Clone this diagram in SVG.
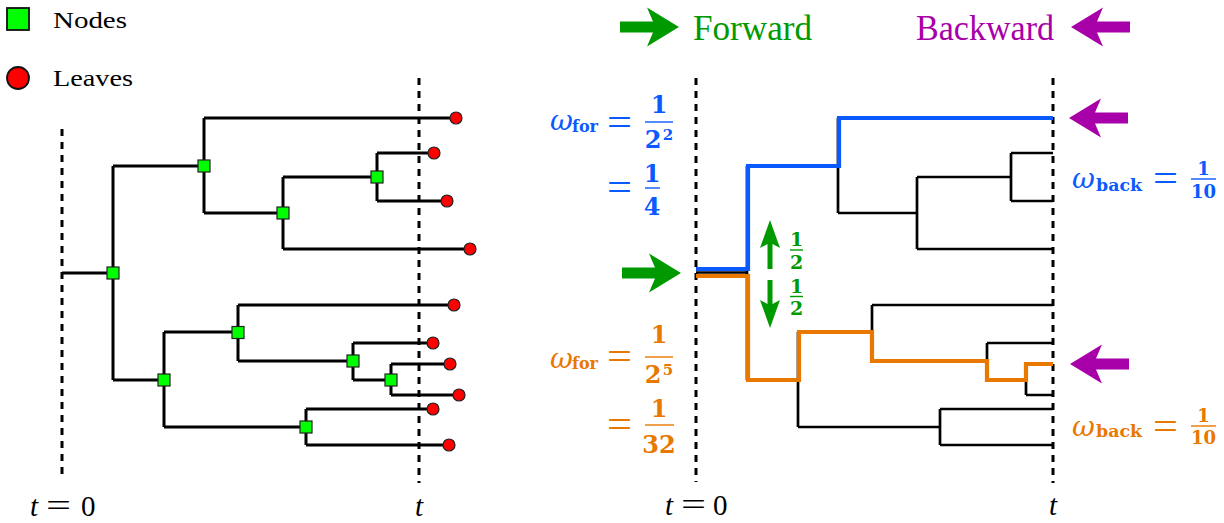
<svg xmlns="http://www.w3.org/2000/svg" width="1224" height="523" viewBox="0 0 1224 523">
<style>
.edge{fill:none;stroke:#000;stroke-width:3}
.redge{fill:none;stroke:#000;stroke-width:2.7}
.dash{stroke:#000;stroke-width:3;stroke-dasharray:7 6}
.node{fill:#00ff00;stroke:#222;stroke-width:1.2}
.leaf{fill:#ff0000;stroke:#222;stroke-width:1.2}
.lbl{font-family:"Liberation Serif",serif;font-size:24px;fill:#000}
.hdr{font-family:"Liberation Serif",serif;font-size:35px}
.tm{font-family:"Liberation Serif",serif;font-size:29px;fill:#000}
.it{font-style:italic}
.eq{font-family:"Liberation Serif",serif;font-size:40px}
.eqs{font-family:"Liberation Serif",serif;font-size:31px;fill:#000}
.om{font-family:"DejaVu Serif",serif;font-style:italic;font-size:28px}
.bf{font-family:"DejaVu Serif",serif;font-weight:bold}
.blue{fill:#0a5aff}
.orange{fill:#e87800}
.green{fill:#009a00}
.purple{fill:#a800a8}
.bar{stroke-width:1.4}
</style>
<defs>
<path id="fat" d="M0,0 L-32,-19.5 L-26,-5.5 L-59,-5.5 L-59,5.5 L-26,5.5 L-32,19.5 Z"/>
</defs>
<rect width="1224" height="523" fill="#fff"/>

<!-- legend -->
<g id="legend">
<rect x="7" y="8" width="22" height="22" fill="#00ff00" stroke="#111" stroke-width="1.8"/>
<text class="lbl" x="53" y="28" textLength="74" lengthAdjust="spacingAndGlyphs">Nodes</text>
<circle cx="18" cy="78" r="11" fill="#ff0000" stroke="#111" stroke-width="1.8"/>
<text class="lbl" x="53" y="86" textLength="80" lengthAdjust="spacingAndGlyphs">Leaves</text>
</g>

<!-- header -->
<g id="header-forward" class="green">
<use href="#fat" transform="translate(679,27)"/>
<text class="hdr" x="693" y="40" textLength="119" lengthAdjust="spacingAndGlyphs">Forward</text>
</g>
<g id="header-backward" class="purple">
<text class="hdr" x="916" y="40" textLength="138" lengthAdjust="spacingAndGlyphs">Backward</text>
<use href="#fat" transform="translate(1071,27) scale(-1,1)"/>
</g>

<!-- time lines -->
<g id="timelines">
<line class="dash" x1="62" y1="129" x2="62" y2="480"/>
<line class="dash" x1="419" y1="78" x2="419" y2="483"/>
<line class="dash" x1="696" y1="78" x2="696" y2="482"/>
<line class="dash" x1="1053" y1="78" x2="1053" y2="483"/>
</g>

<!-- connectors -->
<g id="connectors">
<path class="edge" d="M62,273 H113 M113,166 V380 M113,166 H204 M204,118 V213 M204,118 H456 M204,213 H283 M283,177 V249 M283,177 H377 M377,153 V201 M377,153 H434 M377,201 H447 M283,249 H470 M113,380 H164 M164,332 V427 M164,332 H238 M238,305 V361 M238,305 H454 M238,361 H353 M353,343 V380 M353,343 H433 M353,380 H391 M391,364 V395 M391,364 H450 M391,395 H459 M164,427 H306 M306,409 V445 M306,409 H433 M306,445 H449"/>
<path class="redge" d="M696,272.5 H747 M747,166 V380 M747,166 H838 M838,118 V213 M838,118 H1053 M838,213 H917 M917,177 V249 M917,177 H1011 M1011,153 V201 M1011,153 H1053 M1011,201 H1053 M917,249 H1053 M747,380 H798 M798,332 V427 M798,332 H872 M872,305 V361 M872,305 H1053 M872,361 H987 M987,343 V380 M987,343 H1053 M987,380 H1026 M1026,364 V395 M1026,364 H1053 M1026,395 H1053 M798,427 H940 M940,409 V445 M940,409 H1053 M940,445 H1053"/>
<path id="path-blue" d="M696,269 H748 V166 H839 V118 H1053" fill="none" stroke="#0a5aff" stroke-width="4.2"/>
<path id="path-orange" d="M696,276 H748 V380 H799 V332 H872 V361 H987 V380 H1026 V364 H1053" fill="none" stroke="#e87800" stroke-width="4.2"/>
</g>

<!-- internal nodes -->
<g id="n1"><rect class="node" x="107" y="267" width="12" height="12"/></g>
<g id="n2"><rect class="node" x="198" y="160" width="12" height="12"/></g>
<g id="n3"><rect class="node" x="277" y="207" width="12" height="12"/></g>
<g id="n4"><rect class="node" x="371" y="171" width="12" height="12"/></g>
<g id="n5"><rect class="node" x="158" y="374" width="12" height="12"/></g>
<g id="n6"><rect class="node" x="232" y="326.5" width="12" height="12"/></g>
<g id="n7"><rect class="node" x="347" y="355" width="12" height="12"/></g>
<g id="n8"><rect class="node" x="385" y="374" width="12" height="12"/></g>
<g id="n9"><rect class="node" x="300" y="421" width="12" height="12"/></g>

<!-- leaves -->
<g id="l1"><circle class="leaf" cx="456" cy="118" r="6"/></g>
<g id="l2"><circle class="leaf" cx="434" cy="153" r="6"/></g>
<g id="l3"><circle class="leaf" cx="447" cy="201" r="6"/></g>
<g id="l4"><circle class="leaf" cx="470" cy="249" r="6"/></g>
<g id="l5"><circle class="leaf" cx="454" cy="305" r="6"/></g>
<g id="l6"><circle class="leaf" cx="433" cy="343" r="6"/></g>
<g id="l7"><circle class="leaf" cx="450" cy="364" r="6"/></g>
<g id="l8"><circle class="leaf" cx="459" cy="395" r="6"/></g>
<g id="l9"><circle class="leaf" cx="433" cy="409" r="6"/></g>
<g id="l10"><circle class="leaf" cx="449" cy="445" r="6"/></g>

<!-- time labels -->
<g id="t0-left">
<text class="tm it" x="30" y="516">t</text>
<text class="eqs" x="46" y="515.5" textLength="25" lengthAdjust="spacingAndGlyphs">=</text>
<text class="tm" x="81" y="516">0</text>
</g>
<text id="t-left" class="tm it" x="419" y="516" text-anchor="middle">t</text>
<g id="t0-right">
<text class="tm it" x="665" y="515">t</text>
<text class="eqs" x="681" y="515" textLength="25" lengthAdjust="spacingAndGlyphs">=</text>
<text class="tm" x="713" y="515">0</text>
</g>
<text id="t-right" class="tm it" x="1053" y="515" text-anchor="middle">t</text>

<!-- arrows on right panel -->
<g id="arrow-forward" class="green"><use href="#fat" transform="translate(681,273)"/></g>
<g id="arrow-back-top" class="purple"><use href="#fat" transform="translate(1069,118) scale(-1,1)"/></g>
<g id="arrow-back-mid" class="purple"><use href="#fat" transform="translate(1070,364) scale(-1,1)"/></g>

<g id="split-arrows" class="green">
<path d="M770,220 L780,248 L772.5,244 V269 H767.5 V244 L760,248 Z"/>
<path d="M770,328 L780,300 L772.5,304 V280 H767.5 V304 L760,300 Z"/>
<text class="bf" x="796.5" y="246" font-size="19" text-anchor="middle">1</text>
<line class="bar" x1="790" y1="250" x2="803" y2="250" stroke="#009a00"/>
<text class="bf" x="796.5" y="269" font-size="19" text-anchor="middle">2</text>
<text class="bf" x="796.5" y="293" font-size="19" text-anchor="middle">1</text>
<line class="bar" x1="790" y1="296.5" x2="803" y2="296.5" stroke="#009a00"/>
<text class="bf" x="796.5" y="315" font-size="19" text-anchor="middle">2</text>
</g>

<!-- blue weights -->
<g id="wfor-blue" class="blue">
<text class="om" x="550" y="130">ω</text>
<text class="bf" x="572" y="132" font-size="17" textLength="26" lengthAdjust="spacingAndGlyphs">for</text>
<text class="eq" x="607" y="136" textLength="25" lengthAdjust="spacingAndGlyphs">=</text>
<text class="bf" x="659" y="113" font-size="24" text-anchor="middle">1</text>
<line class="bar" x1="645" y1="122" x2="673" y2="122" stroke="#0a5aff"/>
<text class="bf" x="653" y="148" font-size="24" text-anchor="middle">2</text>
<text class="bf" x="668" y="140" font-size="15" text-anchor="middle">2</text>
<text class="eq" x="607" y="201" textLength="25" lengthAdjust="spacingAndGlyphs">=</text>
<text class="bf" x="652" y="182" font-size="24" text-anchor="middle">1</text>
<line class="bar" x1="645" y1="188" x2="660" y2="188" stroke="#0a5aff"/>
<text class="bf" x="652" y="215" font-size="24" text-anchor="middle">4</text>
</g>
<g id="wback-blue" class="blue">
<text class="om" x="1072" y="188">ω</text>
<text class="bf" x="1096" y="191" font-size="17" textLength="46" lengthAdjust="spacingAndGlyphs">back</text>
<text class="eq" x="1153" y="192" textLength="25" lengthAdjust="spacingAndGlyphs">=</text>
<text class="bf" x="1203.5" y="175" font-size="18" text-anchor="middle">1</text>
<line class="bar" x1="1191" y1="179" x2="1216" y2="179" stroke="#0a5aff"/>
<text class="bf" x="1203.5" y="198" font-size="18" text-anchor="middle">10</text>
</g>

<!-- orange weights -->
<g id="wfor-orange" class="orange">
<text class="om" x="550" y="368">ω</text>
<text class="bf" x="572" y="369" font-size="17" textLength="26" lengthAdjust="spacingAndGlyphs">for</text>
<text class="eq" x="607" y="370" textLength="25" lengthAdjust="spacingAndGlyphs">=</text>
<text class="bf" x="659" y="343" font-size="24" text-anchor="middle">1</text>
<line class="bar" x1="645" y1="357" x2="673" y2="357" stroke="#e87800"/>
<text class="bf" x="653" y="383" font-size="24" text-anchor="middle">2</text>
<text class="bf" x="668" y="375" font-size="15" text-anchor="middle">5</text>
<text class="eq" x="607" y="438" textLength="25" lengthAdjust="spacingAndGlyphs">=</text>
<text class="bf" x="659" y="417" font-size="24" text-anchor="middle">1</text>
<line class="bar" x1="645" y1="425" x2="674" y2="425" stroke="#e87800"/>
<text class="bf" x="659" y="453" font-size="24" text-anchor="middle">32</text>
</g>
<g id="wback-orange" class="orange">
<text class="om" x="1072" y="436">ω</text>
<text class="bf" x="1096" y="437" font-size="17" textLength="46" lengthAdjust="spacingAndGlyphs">back</text>
<text class="eq" x="1153" y="440" textLength="25" lengthAdjust="spacingAndGlyphs">=</text>
<text class="bf" x="1203.5" y="422" font-size="18" text-anchor="middle">1</text>
<line class="bar" x1="1191" y1="426" x2="1216" y2="426" stroke="#e87800"/>
<text class="bf" x="1203.5" y="444" font-size="18" text-anchor="middle">10</text>
</g>
</svg>
